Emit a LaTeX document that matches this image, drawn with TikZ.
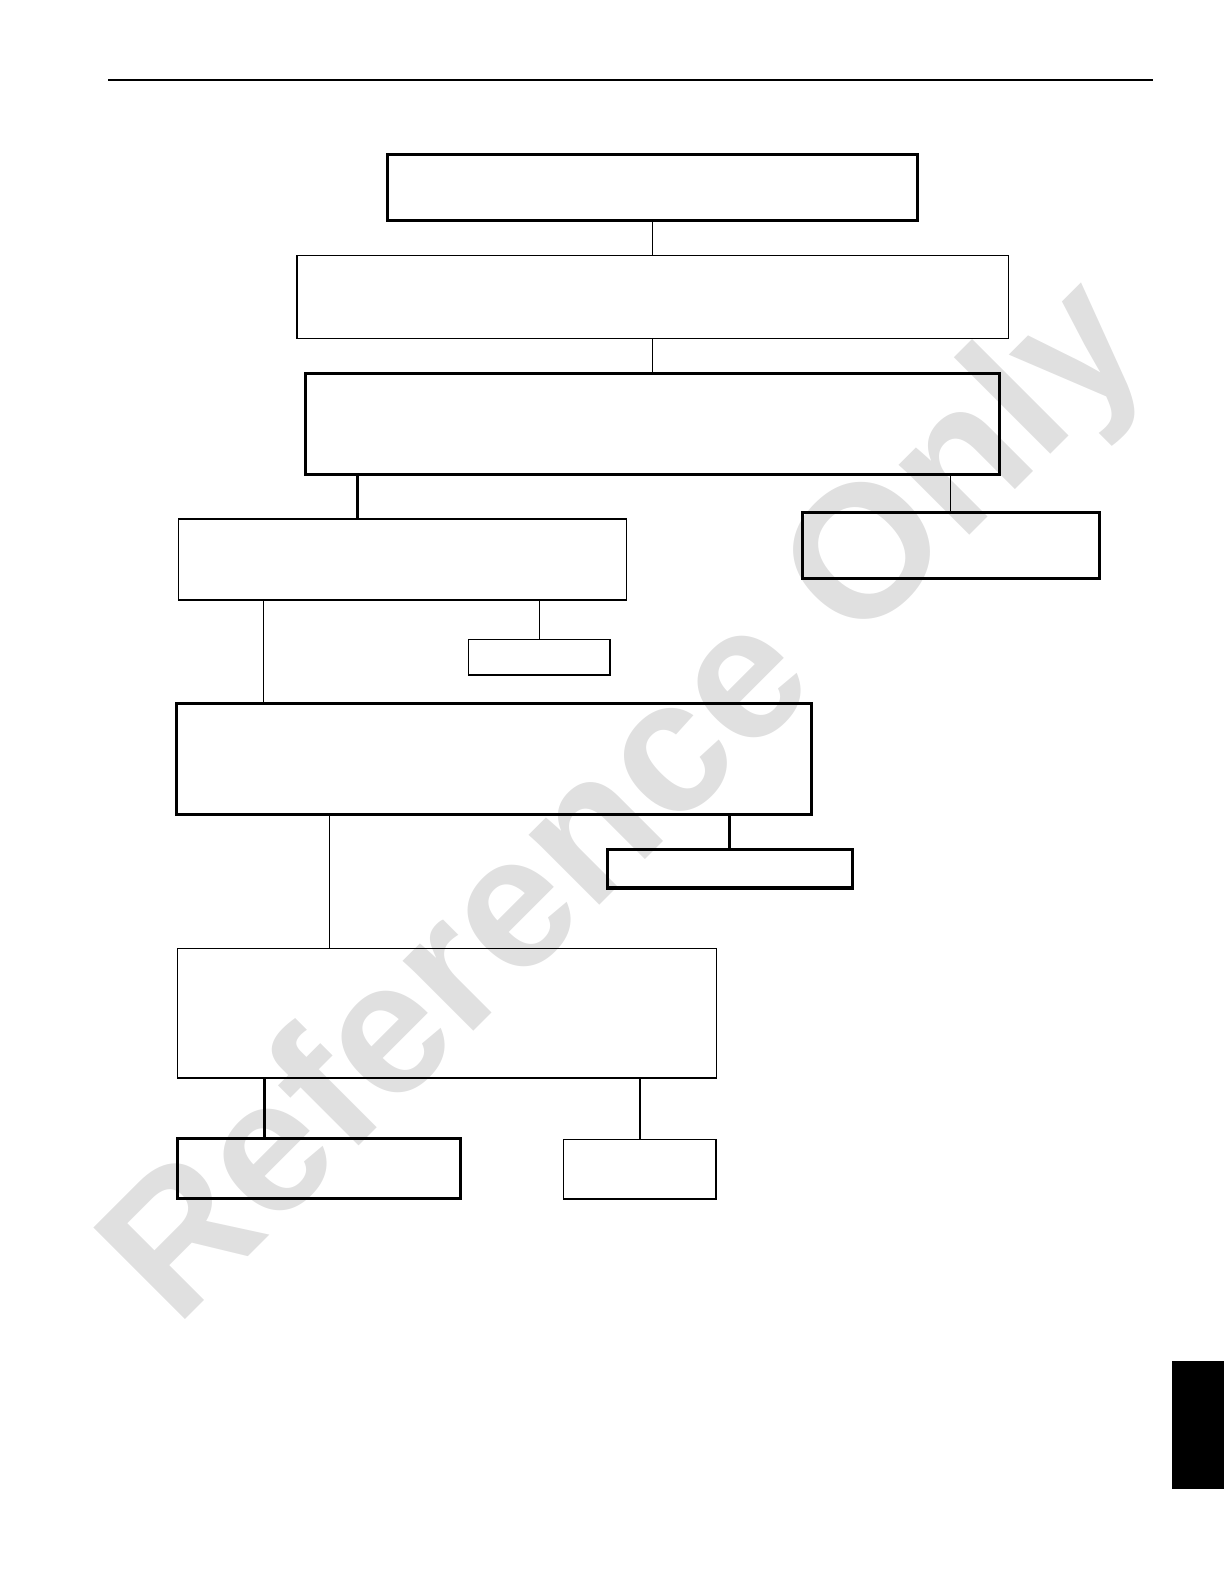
\documentclass[tikz,border=0pt]{standalone}
\usepackage{fontspec}
\newfontfamily\markfont{Liberation Sans}
\usetikzlibrary{positioning}

\begin{document}
\begin{tikzpicture}[
    x=0.01cm, y=-0.01cm,
    box/.style={
        draw, rectangle,
        inner sep=0pt,
        line width=0.45pt
    },
    heavy/.style={box, line width=0.85pt},
    link/.style={line width=0.45pt},
    heavylink/.style={line width=0.85pt},
    watermark/.style={
        text=black!12,
        font=\markfont\bfseries\fontsize{53}{53}\selectfont,
        rotate=45, inner sep=0pt
    }
]
\node[watermark] (mark) at (624,798) {Reference Only};

\draw[line width=0.6pt] (107,79) -- (1141,79);
\fill (1160,1347) rectangle (1212,1474);

\node[heavy, minimum width=5.24cm, minimum height=0.65cm] (start) at (646,185.5) {};
\node[box, minimum width=7.04cm, minimum height=0.82cm] (check) at (646,294) {};
\node[heavy, minimum width=6.86cm, minimum height=1.00cm] (test) at (646,420) {};
\node[box, minimum width=4.43cm, minimum height=0.80cm] (left) at (398.5,554) {};
\node[heavy, minimum width=2.94cm, minimum height=0.66cm] (right) at (941,540) {};
\node[box, minimum width=1.40cm, minimum height=0.35cm] (ok) at (534,650.5) {};
\node[heavy, minimum width=6.28cm, minimum height=1.10cm] (inspect) at (489,751) {};
\node[heavy, minimum width=2.43cm, minimum height=0.38cm] (repair) at (722.5,860) {};
\node[box, minimum width=5.33cm, minimum height=1.28cm] (measure) at (442.5,1003) {};
\node[heavy, minimum width=2.80cm, minimum height=0.59cm] (replace) at (316,1156.5) {};
\node[box, minimum width=1.51cm, minimum height=0.59cm] (done) at (633.5,1157.5) {};

\coordinate (j1) at (354,0);
\coordinate (j2) at (261,0);
\coordinate (j3) at (326,0);
\coordinate (j4) at (262,0);

\draw[link] (start.south) -- (check.north);
\draw[link] (check.south) -- (test.north);
\draw[heavylink] (test.south -| j1) -- (left.north -| j1);
\draw[link] (test.south -| right.north) -- (right.north);
\draw[link] (left.south -| j2) -- (inspect.north -| j2);
\draw[link] (left.south -| ok.north) -- (ok.north);
\draw[link] (inspect.south -| j3) -- (measure.north -| j3);
\draw[heavylink] (inspect.south -| repair.north) -- (repair.north);
\draw[heavylink] (measure.south -| j4) -- (replace.north -| j4);
\draw[link] (measure.south -| done.north) -- (done.north);

\pgfresetboundingbox
\useasboundingbox (0,0) rectangle (1211,1568);
\end{tikzpicture}
\end{document}
